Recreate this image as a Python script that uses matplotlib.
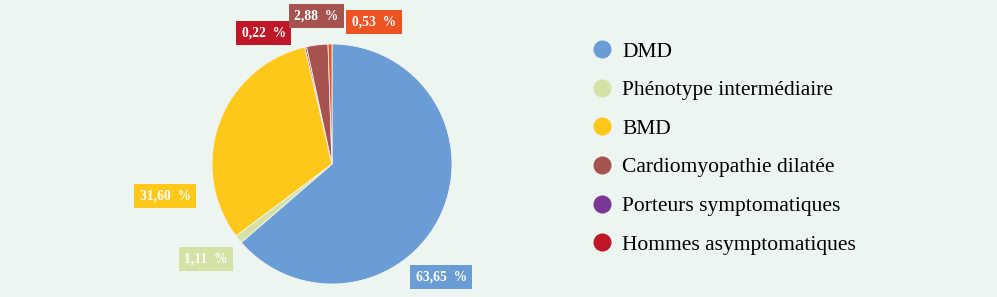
import matplotlib.pyplot as plt
from matplotlib.lines import Line2D

# pie slices, clockwise from 12 o'clock
values = [63.65, 1.11, 31.60, 0.22, 2.88, 0.53]
labels = ["63,65 %", "1,11 %", "31,60 %", "0,22 %", "2,88 %", "0,53 %"]
colors = ["#6a9dd5", "#d4e2a6", "#fec81b", "#bf1727", "#a6524e", "#ed5322"]
# label offsets (in pie radii)
lab_pos = [(0.91, -0.94), (-1.05, -0.79), (-1.39, -0.27),
           (-0.57, 1.09), (-0.13, 1.23), (0.35, 1.18)]

legend_labels = ["DMD", "Phénotype intermédiaire", "BMD",
                 "Cardiomyopathie dilatée", "Porteurs symptomatiques",
                 "Hommes asymptomatiques"]
legend_colors = ["#6a9dd5", "#d4e2a6", "#fec81b", "#a6524e", "#7b3795", "#bf1727"]

bg = "#edf5f0"
W, H = 997, 297
cx, cy, r = 332, 164, 120

fig = plt.figure(figsize=(W / 100, H / 100), dpi=100, facecolor=bg)
ax = fig.add_axes([0, 0, 1, 1])
ax.set_facecolor(bg)

ax.pie(values, colors=colors, startangle=90, counterclock=False, radius=1,
       wedgeprops=dict(edgecolor="#f4f4f4", linewidth=0.6))
ax.set_aspect("auto")
ax.set_xlim(-cx / r, (W - cx) / r)
ax.set_ylim(-(H - cy) / r, cy / r)
ax.axis("off")

for lab, (x, y), c in zip(labels, lab_pos, colors):
    ax.text(x, y, lab.replace(" ", "  "), ha="center", va="center",
            color="white", fontsize=9.8, fontweight="bold",
            family="Liberation Serif",
            bbox=dict(boxstyle="square,pad=0.4", facecolor=c, edgecolor="none"))

handles = [Line2D([], [], marker="o", linestyle="none", markersize=13,
                  markerfacecolor=c, markeredgecolor="none") for c in legend_colors]
fig.legend(handles, legend_labels, loc="upper left", bbox_to_anchor=(0.571, 0.925),
           frameon=False, prop=dict(family="Liberation Serif", size=15.5),
           labelspacing=0.86, handletextpad=0.35, handlelength=1.2)

fig.savefig("out.png", dpi=100, facecolor=bg)
